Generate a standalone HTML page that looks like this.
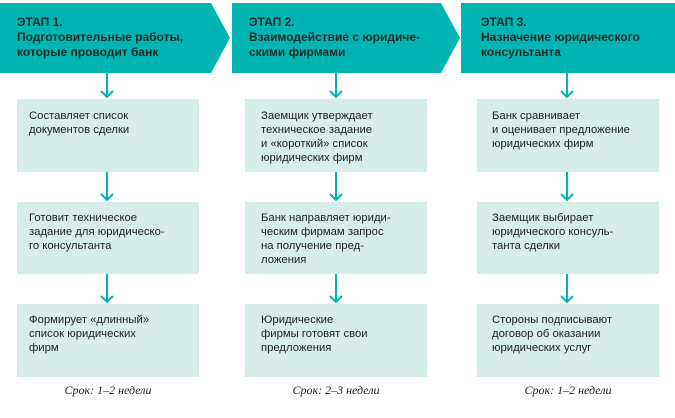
<!DOCTYPE html>
<html><head><meta charset="utf-8"><style>
html,body{margin:0;padding:0;background:#fff}
svg{display:block}
.t{font-family:"Liberation Sans",sans-serif;font-weight:bold;font-size:12px;fill:#1d2b2b}
.b{font-family:"Liberation Sans",sans-serif;font-size:11.3px;fill:#222}
.f{font-family:"Liberation Serif",serif;font-style:italic;font-size:12px;fill:#222}
</style></head><body>
<svg width="675" height="418" viewBox="0 0 675 418" xmlns="http://www.w3.org/2000/svg">
<g fill="#00b5b1">
<polygon points="0,3 211,3 230,38 211,73 0,73"/>
<polygon points="232,3 441,3 460,38 441,73 232,73"/>
<polygon points="461,3 675,3 675,73 461,73"/>
</g>
<text class="t" x="17" y="26">ЭТАП 1.</text>
<text class="t" x="17" y="41">Подготовительные работы,</text>
<text class="t" x="17" y="56">которые проводит банк</text>
<text class="t" x="249" y="26">ЭТАП 2.</text>
<text class="t" x="249" y="41">Взаимодействие с юридиче-</text>
<text class="t" x="249" y="56">скими фирмами</text>
<text class="t" x="481" y="26">ЭТАП 3.</text>
<text class="t" x="481" y="41">Назначение юридического</text>
<text class="t" x="481" y="56">консультанта</text>
<g fill="#d6edea">
<rect x="17" y="99" width="182" height="73"/><rect x="17" y="202" width="182" height="72"/><rect x="17" y="304" width="182" height="73"/>
<rect x="245" y="99" width="182" height="73"/><rect x="245" y="202" width="182" height="72"/><rect x="245" y="304" width="182" height="73"/>
<rect x="477" y="99" width="182" height="73"/><rect x="477" y="202" width="182" height="72"/><rect x="477" y="304" width="182" height="73"/>
</g>
<g stroke="#00b5b1" stroke-width="2" fill="none">
<path d="M107 73V97M101 91l6 6 6-6M107 172V200M101 194l6 6 6-6M107 274V302M101 296l6 6 6-6"/>
<path d="M336 73V97M330 91l6 6 6-6M336 172V200M330 194l6 6 6-6M336 274V302M330 296l6 6 6-6"/>
<path d="M567 73V97M561 91l6 6 6-6M567 172V200M561 194l6 6 6-6M567 274V302M561 296l6 6 6-6"/>
</g>
<g class="b">
<text x="29" y="119">Составляет список</text><text x="29" y="133">документов сделки</text>
<text x="29" y="221">Готовит техническое</text><text x="29" y="235">задание для юридическо-</text><text x="29" y="249">го консультанта</text>
<text x="29" y="323">Формирует «длинный»</text><text x="29" y="337">список юридических</text><text x="29" y="351">фирм</text>
<text x="261" y="119">Заемщик утверждает</text><text x="261" y="133">техническое задание</text><text x="261" y="147">и «короткий» список</text><text x="261" y="161">юридических фирм</text>
<text x="261" y="221">Банк направляет юриди-</text><text x="261" y="235">ческим фирмам запрос</text><text x="261" y="249">на получение пред-</text><text x="261" y="263">ложения</text>
<text x="261" y="323">Юридические</text><text x="261" y="337">фирмы готовят свои</text><text x="261" y="351">предложения</text>
<text x="492" y="119">Банк сравнивает</text><text x="492" y="133">и оценивает предложение</text><text x="492" y="147">юридических фирм</text>
<text x="492" y="221">Заемщик выбирает</text><text x="492" y="235">юридического консуль-</text><text x="492" y="249">танта сделки</text>
<text x="492" y="323">Стороны подписывают</text><text x="492" y="337">договор об оказании</text><text x="492" y="351">юридических услуг</text>
</g>
<text class="f" x="108" y="394" text-anchor="middle">Срок: 1–2 недели</text>
<text class="f" x="336" y="394" text-anchor="middle">Срок: 2–3 недели</text>
<text class="f" x="568" y="394" text-anchor="middle">Срок: 1–2 недели</text>
</svg>
</body></html>
